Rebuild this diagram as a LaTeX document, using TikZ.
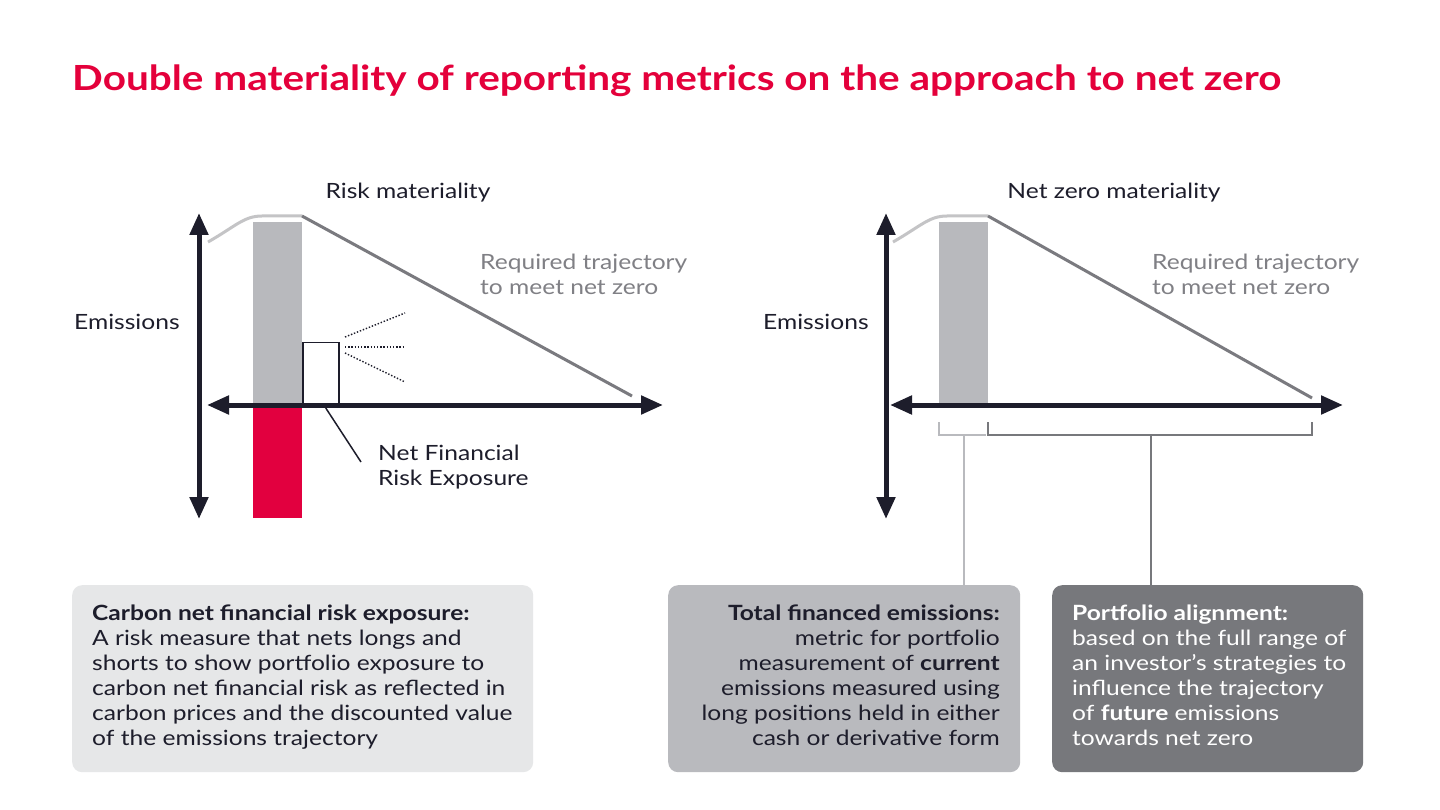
\documentclass[tikz,border=0pt]{standalone}
\usepackage{fontspec}
\setmainfont{Lato}[FakeStretch=1.17]
\usetikzlibrary{arrows.meta,calc}
\definecolor{titlered}{HTML}{E4003B}
\definecolor{barred}{HTML}{E2003F}
\definecolor{navy}{HTML}{1D1D2B}
\definecolor{bargray}{HTML}{B8B9BD}
\definecolor{curvelight}{HTML}{C4C4C6}
\definecolor{trajgray}{HTML}{7A7A7F}
\definecolor{labelgray}{HTML}{808085}
\definecolor{boxlight}{HTML}{E6E7E8}
\definecolor{boxmid}{HTML}{B9BABE}
\definecolor{boxdark}{HTML}{77787C}
\tikzset{
  body/.style={inner sep=0pt, font=\fontsize{21}{25}\selectfont, text=navy},
  title/.style={anchor=base west, inner sep=0pt, font=\fontsize{34.6}{40}\selectfont\bfseries, text=titlered},
  axis/.style={line width=5pt, draw=navy, {Triangle[length=22pt,width=18pt]}-{Triangle[length=22pt,width=18pt]}},
  curvelt/.style={line width=3pt, draw=curvelight},
  traj/.style={line width=3pt, draw=trajgray},
  infobox/.style={rounded corners=10pt, minimum width=#1, minimum height=187pt, anchor=north west, inner sep=0pt},
  dots/.style={line width=1.4pt, draw=navy, dash pattern=on 1.4pt off 1.8pt},
}
\begin{document}
\begin{tikzpicture}[x=1pt,y=-1pt]
\useasboundingbox (0,0) rectangle (1440,810);
\fill[white] (0,0) rectangle (1440,810);

\node[title] (title) at (72,91) {Double materiality of reporting metrics on the approach to net zero};

% ---------- left chart ----------
\fill[bargray] (253,222) rectangle (302,405);
\fill[barred] (253,405) rectangle (302,518);
\draw[curvelt] (208,242) .. controls (236,226) and (244,216) .. (262,216) -- (302,216);
\draw[traj] (302,216) -- (632,396);
\node[draw=navy, line width=1.5pt, minimum width=36pt, minimum height=62pt, inner sep=0pt, anchor=south west] (nfr) at (302,405) {};
\draw[dots] (345,337) -- (405,313);
\draw[dots] (345,347) -- (405,347);
\draw[dots] (345,353) -- (405,382);
\coordinate (Lvt) at (199,213);
\coordinate (Lvb) at (199,519);
\coordinate (Lhl) at (207,405);
\coordinate (Lhr) at (663,405);
\draw[axis] (Lhl) -- (Lhr);
\draw[axis] (Lvt) -- (Lvb);
\node[body, anchor=base] (rm) at (408,199) {Risk materiality};
\node[body, anchor=base west] (em1) at (74,330) {Emissions};
\node[body, anchor=north west, align=left, text=labelgray] (rt1) at (480,254) {Required trajectory\\to meet net zero};
\node[body, anchor=north west, align=left] (nfrt) at (378,445) {Net Financial\\Risk Exposure};
\coordinate (lead) at (361,462);
\draw[navy, line width=1.5pt] ($(nfr.south)+(5,3)$) -- (lead);

% ---------- right chart ----------
\fill[bargray] (939,222) rectangle (988,405);
\draw[curvelt] (893,242) .. controls (921,226) and (929,216) .. (947,216) -- (988,216);
\draw[traj] (988,216) -- (1312,398);
\coordinate (Rvt) at (886,213);
\coordinate (Rvb) at (886,519);
\coordinate (Rhl) at (890,405);
\coordinate (Rhr) at (1343,405);
\draw[axis] (Rhl) -- (Rhr);
\draw[axis] (Rvt) -- (Rvb);
\node[body, anchor=base] (nzm) at (1114,199) {Net zero materiality};
\node[body, anchor=base west] (em2) at (763,330) {Emissions};
\node[body, anchor=north west, align=left, text=labelgray] (rt2) at (1152,254) {Required trajectory\\to meet net zero};

% ---------- boxes ----------
\node[infobox=461pt, fill=boxlight] (b1) at (72,585) {};
\node[infobox=352pt, fill=boxmid] (b2) at (668,585) {};
\node[infobox=311pt, fill=boxdark] (b3) at (1052,585) {};

\node[body, anchor=north west, align=left] (t1) at (92,605) {\textbf{Carbon net financial risk exposure:}\\A risk measure that nets longs and\\shorts to show portfolio exposure to\\carbon net financial risk as reflected in\\carbon prices and the discounted value\\of the emissions trajectory};
\node[body, anchor=north east, align=right] (t2) at (1000,605) {\textbf{Total financed emissions:}\\metric for portfolio\\measurement of \textbf{current}\\emissions measured using\\long positions held in either\\cash or derivative form};
\node[body, anchor=north west, align=left, text=white] (t3) at (1072,605) {\textbf{Portfolio alignment:}\\based on the full range of\\an investor\textquoteright s strategies to\\influence the trajectory\\of \textbf{future} emissions\\towards net zero};

% ---------- brackets ----------
\coordinate (bl1) at (939,422);
\coordinate (bl2) at (986,435);
\coordinate (bs1) at (964,435);
\draw[boxmid, line width=1.5pt] (bl1) |- (bl2);
\draw[boxmid, line width=1.5pt] (bs1) -- (bs1 |- b2.north);
\coordinate (bd1) at (988,422);
\coordinate (bd2) at (1312,422);
\coordinate (bs2) at (1151,435);
\draw[boxdark, line width=1.5pt] (bd1) -- (988,435) -- (1312,435) -- (bd2);
\draw[boxdark, line width=1.5pt] (bs2) -- (bs2 |- b3.north);
\end{tikzpicture}
\end{document}
